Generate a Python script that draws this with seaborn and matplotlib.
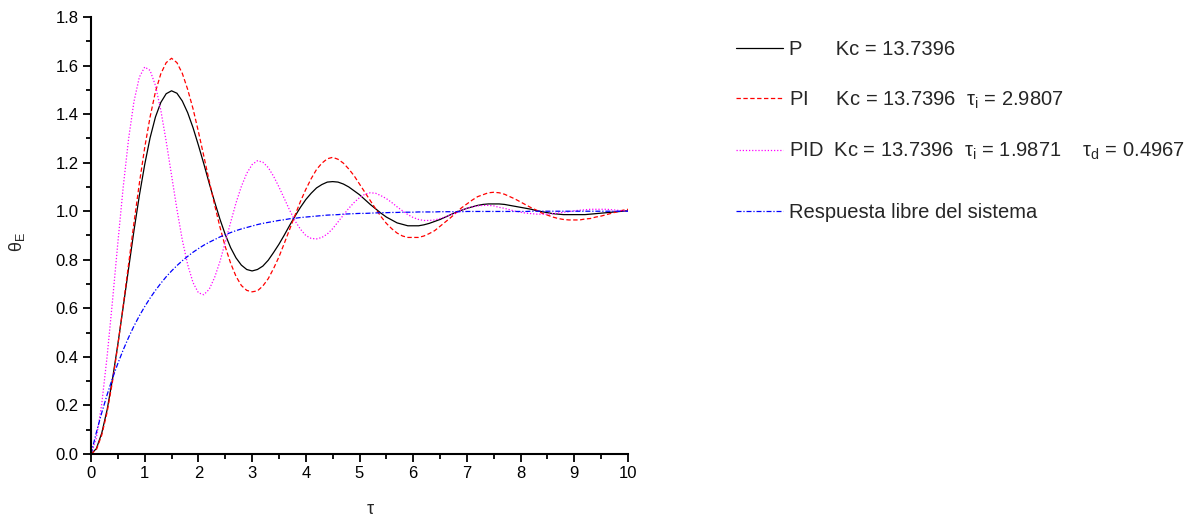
import numpy as np
import matplotlib
matplotlib.use("Agg")
import matplotlib.pyplot as plt
from matplotlib.ticker import MultipleLocator, FormatStrFormatter
import seaborn as sns

# Dimensionless time
tau = [0.0, 0.1, 0.2, 0.3, 0.4, 0.5, 0.6, 0.7, 0.8, 0.9,
       1.0, 1.1, 1.2, 1.3, 1.4, 1.5, 1.6, 1.7, 1.8, 1.9,
       2.0, 2.1, 2.2, 2.3, 2.4, 2.5, 2.6, 2.7, 2.8, 2.9,
       3.0, 3.1, 3.2, 3.3, 3.4, 3.5, 3.6, 3.7, 3.8, 3.9,
       4.0, 4.1, 4.2, 4.3, 4.4, 4.5, 4.6, 4.7, 4.8, 4.9,
       5.0, 5.1, 5.2, 5.3, 5.4, 5.5, 5.6, 5.7, 5.8, 5.9,
       6.0, 6.1, 6.2, 6.3, 6.4, 6.5, 6.6, 6.7, 6.8, 6.9,
       7.0, 7.1, 7.2, 7.3, 7.4, 7.5, 7.6, 7.7, 7.8, 7.9,
       8.0, 8.1, 8.2, 8.3, 8.4, 8.5, 8.6, 8.7, 8.8, 8.9,
       9.0, 9.1, 9.2, 9.3, 9.4, 9.5, 9.6, 9.7, 9.8, 9.9,
       10.0]

# Closed-loop response, proportional controller
theta_p = [0.000, 0.022, 0.086, 0.182, 0.308, 0.452, 0.606, 0.764, 0.920, 1.064,
           1.192, 1.302, 1.388, 1.448, 1.484, 1.496, 1.486, 1.454, 1.406, 1.344,
           1.272, 1.196, 1.116, 1.040, 0.968, 0.904, 0.850, 0.808, 0.778, 0.760,
           0.754, 0.760, 0.774, 0.798, 0.830, 0.864, 0.902, 0.942, 0.980, 1.016,
           1.048, 1.074, 1.096, 1.110, 1.120, 1.122, 1.120, 1.112, 1.100, 1.084,
           1.068, 1.048, 1.028, 1.010, 0.992, 0.976, 0.964, 0.952, 0.946, 0.940,
           0.940, 0.940, 0.944, 0.950, 0.958, 0.966, 0.976, 0.986, 0.996, 1.004,
           1.012, 1.018, 1.024, 1.028, 1.030, 1.030, 1.030, 1.028, 1.024, 1.020,
           1.016, 1.012, 1.008, 1.002, 0.998, 0.994, 0.990, 0.988, 0.986, 0.986,
           0.986, 0.986, 0.986, 0.988, 0.990, 0.992, 0.994, 0.996, 0.998, 1.000,
           1.002]

# Closed-loop response, PI controller
theta_pi = [0.000, 0.018, 0.078, 0.172, 0.298, 0.448, 0.612, 0.782, 0.952, 1.114,
            1.262, 1.388, 1.492, 1.566, 1.612, 1.630, 1.612, 1.568, 1.502, 1.422,
            1.328, 1.228, 1.126, 1.028, 0.936, 0.854, 0.786, 0.732, 0.694, 0.674,
            0.668, 0.672, 0.692, 0.722, 0.764, 0.812, 0.868, 0.926, 0.984, 1.040,
            1.090, 1.134, 1.172, 1.198, 1.216, 1.222, 1.214, 1.198, 1.174, 1.146,
            1.112, 1.078, 1.044, 1.010, 0.978, 0.950, 0.928, 0.910, 0.898, 0.892,
            0.892, 0.892, 0.898, 0.908, 0.920, 0.938, 0.956, 0.974, 0.994, 1.014,
            1.030, 1.046, 1.060, 1.068, 1.076, 1.078, 1.076, 1.070, 1.060, 1.050,
            1.038, 1.026, 1.014, 1.004, 0.992, 0.984, 0.976, 0.970, 0.966, 0.964,
            0.964, 0.964, 0.968, 0.970, 0.976, 0.980, 0.986, 0.992, 0.998, 1.004,
            1.008]

# Closed-loop response, PID controller
theta_pid = [0.000, 0.066, 0.206, 0.402, 0.630, 0.870, 1.100, 1.298, 1.452, 1.552,
             1.594, 1.580, 1.518, 1.416, 1.288, 1.148, 1.008, 0.882, 0.780, 0.706,
             0.664, 0.656, 0.678, 0.726, 0.792, 0.872, 0.954, 1.034, 1.102, 1.156,
             1.192, 1.208, 1.202, 1.180, 1.144, 1.100, 1.052, 1.004, 0.960, 0.926,
             0.900, 0.888, 0.886, 0.892, 0.906, 0.928, 0.956, 0.984, 1.012, 1.036,
             1.056, 1.070, 1.076, 1.074, 1.064, 1.052, 1.036, 1.018, 1.002, 0.986,
             0.974, 0.966, 0.962, 0.962, 0.964, 0.970, 0.976, 0.986, 0.994, 1.004,
             1.012, 1.018, 1.022, 1.024, 1.024, 1.022, 1.016, 1.012, 1.006, 1.000,
             0.996, 0.992, 0.990, 0.988, 0.988, 0.988, 0.990, 0.992, 0.996, 0.998,
             1.002, 1.004, 1.006, 1.008, 1.008, 1.008, 1.008, 1.006, 1.004, 1.002,
             1.000]

# Open-loop (free) response of the system
theta_free = [0.000, 0.089, 0.170, 0.244, 0.312, 0.373, 0.429, 0.480, 0.527, 0.569,
              0.607, 0.642, 0.674, 0.703, 0.730, 0.754, 0.776, 0.796, 0.814, 0.831,
              0.846, 0.860, 0.872, 0.883, 0.894, 0.903, 0.912, 0.920, 0.927, 0.933,
              0.939, 0.945, 0.950, 0.954, 0.958, 0.962, 0.965, 0.969, 0.971, 0.974,
              0.976, 0.978, 0.980, 0.982, 0.984, 0.985, 0.986, 0.988, 0.989, 0.990,
              0.991, 0.991, 0.992, 0.993, 0.994, 0.994, 0.995, 0.995, 0.996, 0.996,
              0.996, 0.997, 0.997, 0.997, 0.997, 0.998, 0.998, 0.998, 0.998, 0.998,
              0.999, 0.999, 0.999, 0.999, 0.999, 0.999, 0.999, 0.999, 0.999, 0.999,
              0.999, 0.999, 1.000, 1.000, 1.000, 1.000, 1.000, 1.000, 1.000, 1.000,
              1.000, 1.000, 1.000, 1.000, 1.000, 1.000, 1.000, 1.000, 1.000, 1.000,
              1.000]

labels = ["P      Kc = 13.7396",
          "PI     Kc = 13.7396  $\\tau_i$ = 2.9807",
          "PID  Kc = 13.7396  $\\tau_i$ = 1.9871    $\\tau_d$ = 0.4967",
          "Respuesta libre del sistema"]

sns.set_style("ticks")
plt.rcParams["font.family"] = ["Liberation Sans", "DejaVu Sans"]
plt.rcParams["mathtext.fontset"] = "custom"
plt.rcParams["mathtext.rm"] = "Liberation Sans"
plt.rcParams["mathtext.it"] = "Liberation Sans:italic"
plt.rcParams["mathtext.default"] = "regular"

fig = plt.figure(figsize=(11.94, 5.18), dpi=100)
ax = fig.add_axes([91 / 1194, 1 - 454 / 518, 537 / 1194, 437 / 518])

x = np.array(tau)
sns.lineplot(x=x, y=np.array(theta_p), ax=ax, color="black", lw=0.9, label=labels[0])
sns.lineplot(x=x, y=np.array(theta_pi), ax=ax, color="red", lw=0.9,
             linestyle=(0, (3.5, 2)), label=labels[1])
sns.lineplot(x=x, y=np.array(theta_pid), ax=ax, color="magenta", lw=0.9,
             linestyle=(0, (1, 1.5)), label=labels[2])
sns.lineplot(x=x, y=np.array(theta_free), ax=ax, color="blue", lw=0.9,
             linestyle=(0, (4, 1.5, 1, 1.5)), label=labels[3])

ax.set_xlim(0, 10)
ax.set_ylim(0, 1.8)
ax.xaxis.set_major_locator(MultipleLocator(1))
ax.xaxis.set_minor_locator(MultipleLocator(0.5))
ax.yaxis.set_major_locator(MultipleLocator(0.2))
ax.yaxis.set_minor_locator(MultipleLocator(0.1))
ax.yaxis.set_major_formatter(FormatStrFormatter("%.1f"))
sns.despine(ax=ax)
for s in ("left", "bottom"):
    ax.spines[s].set_linewidth(1.5)
    ax.spines[s].set_color("black")
ax.tick_params(which="major", direction="out", length=6, width=1.3, labelsize=12,
               colors="black", pad=3)
ax.tick_params(which="minor", direction="out", length=3.5, width=1.3, colors="black")

ax.set_xlabel("τ", fontsize=13)
ax.xaxis.set_label_coords((370 - 91) / 537, -0.107)
ax.set_ylabel("$\\theta_E$", fontsize=13)
ax.yaxis.set_label_coords((27 - 91) / 537, (454 - 242) / 437)

handles, names = ax.get_legend_handles_labels()
common = dict(loc="upper left", bbox_transform=fig.transFigure, frameon=False, fontsize=14.5,
              handlelength=2.35, handletextpad=0.27, borderpad=0, borderaxespad=0)
leg_ctrl = ax.legend(handles[:3], names[:3], bbox_to_anchor=(736 / 1194, 1 - 40 / 518),
                     labelspacing=1.5, **common)
ax.add_artist(leg_ctrl)
ax.legend(handles[3:], names[3:], bbox_to_anchor=(736 / 1194, 1 - 203 / 518), **common)

fig.savefig("out.png", dpi=100)
